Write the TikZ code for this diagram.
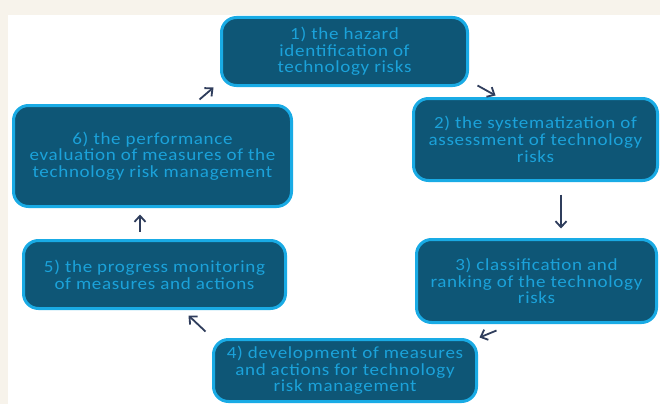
\documentclass[tikz,border=0pt]{standalone}
\usepackage{fontspec}
\setmainfont{Carlito}[FakeStretch=1.12,LetterSpace=4]
\usetikzlibrary{arrows.meta}
\definecolor{paper}{HTML}{F7F3EB}
\definecolor{boxfill}{HTML}{0E5676}
\definecolor{boxline}{HTML}{19ABE5}
\definecolor{boxtext}{HTML}{1BA2DA}
\definecolor{arrowcol}{HTML}{2F3D5C}
\newcommand{\stepfont}{\fontsize{17}{16.7}\selectfont}

\begin{document}
\begin{tikzpicture}[x=1pt,y=-1pt,
    stepbox/.style={draw=boxline,fill=boxfill,line width=3pt,rounded corners=15pt,
                    text=boxtext,align=center,font=\stepfont,inner sep=0pt},
    flow/.style={draw=arrowcol,line width=1.8pt,-{Straight Barb[length=6pt,width=11pt]}}]
    \useasboundingbox (0,0) rectangle (660,404);
    \fill[paper] (0,0) rectangle (660,404);
    \fill[white] (8,15) rectangle (660,404);
    % the six steps, clockwise from the top
    \node[stepbox,minimum width=246pt,minimum height=68pt] (hazard)   at (344.5,51.5)
        {1) the hazard\\identification of\\technology risks};
    \node[stepbox,minimum width=244pt,minimum height=82pt] (system)   at (535.5,139.5)
        {2) the systematization of\\assessment of technology\\risks};
    \node[stepbox,minimum width=240pt,minimum height=83pt] (rank)     at (536.5,281)
        {3) classification and\\ranking of the technology\\risks};
    \node[stepbox,minimum width=263pt,minimum height=62pt] (develop)  at (345,370.5)
        {4) development of measures\\and actions for technology\\risk management};
    \node[stepbox,minimum width=262pt,minimum height=68pt] (monitor)  at (154.5,274.5)
        {5) the progress monitoring\\of measures and actions};
    \node[stepbox,minimum width=278pt,minimum height=101pt] (evaluate) at (152.5,156)
        {6) the performance\\evaluation of measures of the\\technology risk management};
    % short arrows between the boxes
    \draw[flow] (hazard.south west) ++(-20.5,12.5) -- ++(14,-12);
    \draw[flow] (hazard.south east) ++(8.5,-1.5) -- ++(18,10);
    \draw[flow] (system.south) ++(25.5,12.5) -- ++(0,34);
    \draw[flow] (rank.south west) ++(81.5,6.5) -- ++(-17,7);
    \draw[flow] (develop.north west) ++(-6.5,-6.5) -- ++(-17,-16);
    \draw[flow] (monitor.north) ++(-14.5,-7.5) -- ++(0,-17);
\end{tikzpicture}
\end{document}
